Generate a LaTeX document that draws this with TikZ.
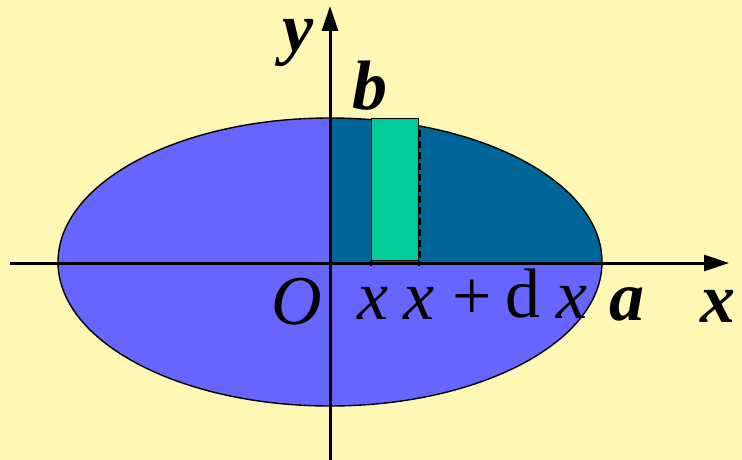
\documentclass[tikz,border=0pt]{standalone}
\usepackage{fontspec}
\setmainfont{Liberation Serif}
\usetikzlibrary{arrows.meta}
\definecolor{bg}{HTML}{FFF8B5}
\definecolor{ellfill}{HTML}{6666FF}
\definecolor{quadfill}{HTML}{006699}
\definecolor{stripfill}{HTML}{00CC99}
\begin{document}
\begin{tikzpicture}[x=1pt,y=-1pt,
  lbl/.style={font=\fontsize{70}{70}\selectfont\itshape, anchor=base, inner sep=0pt},
  blbl/.style={font=\fontsize{70}{70}\selectfont\bfseries\itshape, anchor=base, inner sep=0pt},
  rlbl/.style={font=\fontsize{70}{70}\selectfont, anchor=base, inner sep=0pt},
  axis/.style={line width=3pt, -{Triangle[length=25pt,width=16pt]}},
  outline/.style={draw=black, line width=1.4pt}]
\fill[bg] (0,0) rectangle (742,460);
\useasboundingbox (0,0) rectangle (742,460);
\coordinate (C) at (330,262);
% ellipse
\fill[ellfill] (C) ellipse [x radius=272, y radius=144];
\fill[quadfill] (C) -- (602,262) arc[start angle=0, end angle=90, x radius=272, y radius=-144] -- cycle;
\draw[outline] (C) ellipse [x radius=272, y radius=144];
% strip
\draw[line width=2pt, dash pattern=on 7pt off 4pt] (420,130) -- (420,262);
\node[outline, fill=stripfill, minimum width=47pt, minimum height=142pt, inner sep=0pt, anchor=north west] (strip) at (371,118) {};
% axes
\coordinate (xs) at (10,263);
\coordinate (xe) at (729,263);
\coordinate (ys) at (330,460);
\coordinate (ye) at (330,6);
\draw[axis] (xs) -- (xe);
\draw[axis] (ys) -- (ye);
% ticks
\draw[line width=2pt] (strip.south west) -- ++(0,5);
\draw[line width=2pt] (strip.south east) -- ++(0,5);
% labels
\node[lbl] (O) at (297,324) {O};
\node[lbl] (x1) at (373,319) {x};
\node[lbl] (x2) at (419,319) {x};
\node[rlbl] (plus) at (472,319) {+};
\node[rlbl] (d) at (523,317) {d};
\node[lbl] (x3) at (572,318) {x};
\node[blbl] (a) at (627,320) {a};
\node[blbl] (xl) at (718,322) {x};
\node[blbl, text height=34pt] (yl) at (298,52) {y};
\node[blbl] (bl) at (370,110) {b};
\end{tikzpicture}
\end{document}
